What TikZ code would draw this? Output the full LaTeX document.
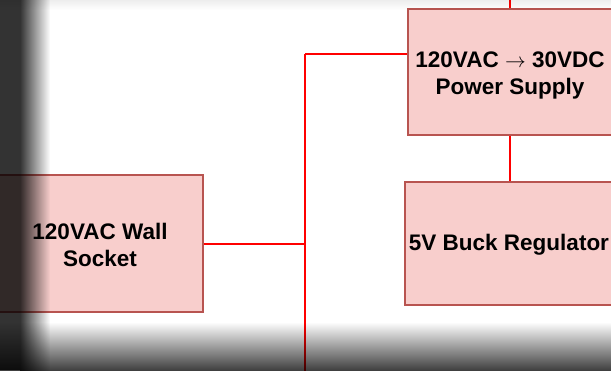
\documentclass[tikz,border=0pt]{standalone}
\usepackage{fontspec}
\setmainfont{Liberation Sans}
\definecolor{boxfill}{HTML}{F8CECC}
\definecolor{boxdraw}{HTML}{B85450}
\definecolor{wire}{HTML}{FF0000}
\begin{document}
\begin{tikzpicture}[x=1pt,y=-1pt,
  blk/.style={draw=boxdraw, line width=1.6pt, fill=boxfill, inner sep=0pt},
  lbl/.style={align=center, font=\fontsize{22.5}{27}\selectfont\bfseries, inner sep=0pt},
  wireline/.style={draw=wire, line width=2pt}]
\useasboundingbox (0,0) rectangle (611,370);
\clip (0,0) rectangle (611,370);
\fill[white] (0,0) rectangle (611,370);
% blocks
\node[blk, minimum width=204pt, minimum height=126pt] (ps) at (510,72) {};
\node[lbl] (pstext) at (510,75) {120VAC $\rightarrow$ 30VDC\\Power Supply};
\node[blk, minimum width=210pt, minimum height=123pt] (buck) at (510,243.5) {};
\node[lbl] (bucktext) at (509,245) {5V Buck Regulator};
\node[blk, minimum width=206pt, minimum height=137pt] (sock) at (100,243.5) {};
\node[lbl] (socktext) at (100,245) {120VAC Wall\\Socket};
% junctions
\coordinate (j1) at (305,54);
\coordinate (j2) at (305,243.5);
\coordinate (jb) at (305,375);
\coordinate (jt) at (510,-5);
% wires
\draw[wireline] (sock.east) -- (j2);
\draw[wireline] (j1) -- (jb);
\draw[wireline] (j1) -- (ps.west |- j1);
\draw[wireline] (ps.north) -- (jt);
\draw[wireline] (ps.south) -- (buck.north);
% vignette
\fill[black!80, blend mode=multiply] (0,0) rectangle (20,370);
\shade[left color=black!80, middle color=black!42, right color=white, blend mode=multiply] (20,0) rectangle (50,370);
\shade[top color=white, middle color=black!20, bottom color=black!75, blend mode=multiply] (0,322) rectangle (611,370);
\shade[top color=black!7, bottom color=white, blend mode=multiply] (0,0) rectangle (611,10);
\end{tikzpicture}
\end{document}
